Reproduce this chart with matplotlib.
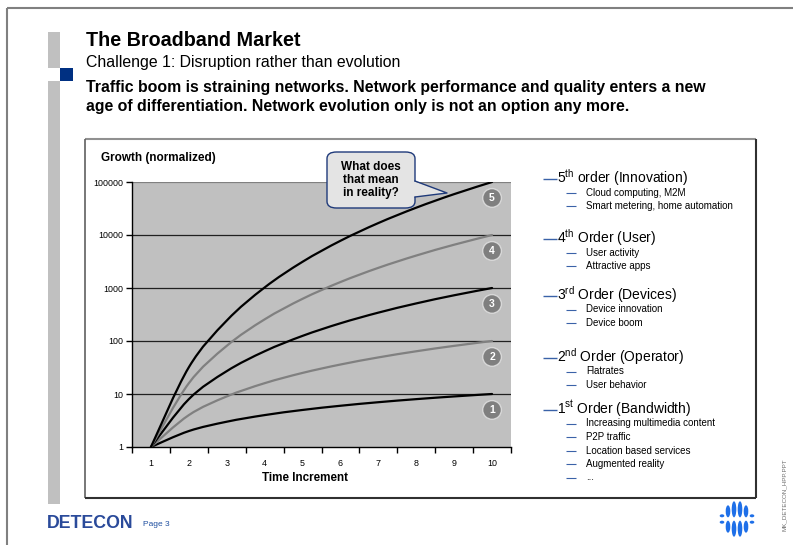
import matplotlib
matplotlib.use("Agg")
import matplotlib.pyplot as plt
from matplotlib.lines import Line2D
from matplotlib.patches import Rectangle, FancyBboxPatch, Polygon, Ellipse, PathPatch
from matplotlib.path import Path
import numpy as np

plt.rcParams['font.family'] = ['Liberation Sans', 'DejaVu Sans']
plt.rcParams['mathtext.fontset'] = 'custom'
plt.rcParams['mathtext.rm'] = 'Liberation Sans'
plt.rcParams['mathtext.it'] = 'Liberation Sans:italic'
plt.rcParams['mathtext.bf'] = 'Liberation Sans:bold'

# ---------------- data ----------------
time_increment = [1, 2, 3, 4, 5, 6, 7, 8, 9, 10]
order1 = [1, 2, 3, 4, 5, 6, 7, 8, 9, 10]
order2 = [1, 4, 9, 16, 25, 36, 49, 64, 81, 100]
order3 = [1, 8, 27, 64, 125, 216, 343, 512, 729, 1000]
order4 = [1, 16, 81, 256, 625, 1296, 2401, 4096, 6561, 10000]
order5 = [1, 32, 243, 1024, 3125, 7776, 16807, 32768, 59049, 100000]
series = [order1, order2, order3, order4, order5]
series_colors = ['#000000', '#808080', '#000000', '#808080', '#000000']
y_ticks = [1, 10, 100, 1000, 10000, 100000]

title = "The Broadband Market"
subtitle = "Challenge 1: Disruption rather than evolution"
lead_lines = ["Traffic boom is straining networks. Network performance and quality enters a new",
              "age of differentiation. Network evolution only is not an option any more."]

order_num = ["5", "4", "3", "2", "1"]
order_suf = ["th", "th", "rd", "nd", "st"]
order_name = ["order (Innovation)", "Order (User)", "Order (Devices)",
              "Order (Operator)", "Order (Bandwidth)"]
order_items = [
    ["Cloud computing, M2M", "Smart metering, home automation"],
    ["User activity", "Attractive apps"],
    ["Device innovation", "Device boom"],
    ["Flatrates", "User behavior"],
    ["Increasing multimedia content", "P2P traffic", "Location based services",
     "Augmented reality", "..."],
]

# ---------------- figure ----------------
W, H = 793, 545
fig = plt.figure(figsize=(W / 100, H / 100), dpi=100)
fig.patch.set_facecolor('white')


def fx(x):
    return x / W


def fy(y):
    return 1 - y / H


def fline(x0, y0, x1, y1, color, lw):
    fig.add_artist(Line2D([fx(x0), fx(x1)], [fy(y0), fy(y1)], color=color, lw=lw,
                          transform=fig.transFigure, solid_capstyle='butt'))


def frect(x0, y0, x1, y1, color):
    fig.add_artist(Rectangle((fx(x0), fy(y1)), fx(x1) - fx(x0), fy(y0) - fy(y1),
                             transform=fig.transFigure, facecolor=color, edgecolor='none'))


def smooth_path(xs, ys):
    """Excel-like smoothed line: Catmull-Rom Bezier segments in log-y space."""
    px = np.asarray(xs, float)
    py = np.log10(np.asarray(ys, float))
    n = len(px)
    verts = [(px[0], py[0])]
    codes = [Path.MOVETO]
    for i in range(n - 1):
        i0 = max(i - 1, 0)
        i3 = min(i + 2, n - 1)
        c1 = (px[i] + (px[i + 1] - px[i0]) / 6, py[i] + (py[i + 1] - py[i0]) / 6)
        c2 = (px[i + 1] - (px[i3] - px[i]) / 6, py[i + 1] - (py[i3] - py[i]) / 6)
        verts += [c1, c2, (px[i + 1], py[i + 1])]
        codes += [Path.CURVE4] * 3
    verts = [(vx, 10 ** vy) for vx, vy in verts]
    return Path(verts, codes)


# slide border
fline(7, 8, 793, 8, '#808080', 1.5)
fline(7, 8, 7, 545, '#808080', 1.5)

# side bars
frect(48, 32, 60, 68, '#C0C0C0')
frect(60, 68, 73, 81, '#003082')
frect(48, 81, 60, 504, '#C0C0C0')

# header text
fig.text(fx(86), fy(40), title, fontsize=14.2, fontweight='bold', va='center', ha='left')
fig.text(fx(86), fy(62), subtitle, fontsize=11.4, va='center', ha='left')
fig.text(fx(86), fy(87), lead_lines[0], fontsize=11.4, fontweight='bold', va='center', ha='left')
fig.text(fx(86), fy(106), lead_lines[1], fontsize=11.4, fontweight='bold', va='center', ha='left')

# chart box
fline(85, 139, 756, 139, '#909090', 1.5)
fline(85, 139, 85, 498, '#606060', 1.2)
fline(756, 139, 756, 498, '#303030', 1.5)
fline(85, 498, 756, 498, '#303030', 1.5)

# ---------------- axes ----------------
ax = fig.add_axes([fx(132), fy(447), fx(511) - fx(132), fy(182) - fy(447)])
ax.set_facecolor('#C0C0C0')
ax.set_yscale('log')
ax.set_ylim(1, 100000)
ax.set_xlim(0.5, 10.5)
for s in ['top', 'right']:
    ax.spines[s].set_visible(False)
ax.spines['left'].set_color('#000000')
ax.spines['bottom'].set_color('#000000')
ax.spines['left'].set_linewidth(1.0)
ax.spines['bottom'].set_linewidth(1.0)

for v in y_ticks[1:]:
    ax.axhline(v, color='#808080' if v == y_ticks[-1] else '#202020',
               lw=1.6 if v == y_ticks[-1] else 0.9, zorder=1)

ax.set_yticks(y_ticks)
ax.set_yticklabels([str(v) for v in y_ticks])
ax.yaxis.set_minor_locator(matplotlib.ticker.NullLocator())
ax.set_xticks(time_increment)
ax.set_xticklabels([str(v) for v in time_increment])
ax.set_xticks([t - 0.5 for t in time_increment] + [time_increment[-1] + 0.5], minor=True)
ax.tick_params(axis='x', which='major', length=0, labelsize=6.4, pad=9)
ax.tick_params(axis='x', which='minor', length=4, width=1, direction='out')
ax.tick_params(axis='y', which='major', length=4, width=1, direction='out', labelsize=6.4, pad=2)

for vals, col in zip(series, series_colors):
    ax.add_patch(PathPatch(smooth_path(time_increment, vals), facecolor='none',
                           edgecolor=col, lw=1.6, zorder=3, capstyle='round'))

# numbered circles near series ends
for k, vals in enumerate(series):
    ax.text(time_increment[-1], vals[-1] / 2, str(k + 1), fontsize=7.5, fontweight='bold',
            color='white', ha='center', va='center', zorder=5,
            bbox=dict(boxstyle='circle,pad=0.42', fc='#7F7F7F', ec='#D8D8D8', lw=1))

fig.text(fx(101), fy(158), "Growth (normalized)", fontsize=8.5, fontweight='bold',
         va='center', ha='left')
fig.text(fx(305), fy(478), "Time Increment", fontsize=8.4, fontweight='bold',
         va='center', ha='center')

# callout
bx0, by0, bx1, by1 = 327, 152, 415, 208
wedge = Polygon([(fx(413), fy(181)), (fx(447), fy(193)), (fx(413), fy(197))], closed=True,
                transform=fig.transFigure, facecolor='#E4E4E4', edgecolor='none', zorder=10)
box = FancyBboxPatch((fx(bx0), fy(by1)), fx(bx1) - fx(bx0), fy(by0) - fy(by1),
                     boxstyle='round,pad=0,rounding_size=0.012', transform=fig.transFigure,
                     facecolor='#E4E4E4', edgecolor='#1F3A7A', lw=1.0, zorder=9)
fig.add_artist(box)
fig.add_artist(wedge)
fig.add_artist(Line2D([fx(415), fx(447), fx(415)], [fy(181), fy(193), fy(197)],
                      color='#1F3A7A', lw=1.0, transform=fig.transFigure, zorder=11))
fig.text(fx(371), fy(180), "What does\nthat mean\nin reality?", fontsize=8.5, fontweight='bold',
         ha='center', va='center', linespacing=1.15, zorder=12)

# legend text on the right
main_y = [178, 238, 295, 357, 409]
for num, suf, name, items, y in zip(order_num, order_suf, order_name, order_items, main_y):
    fline(543, y + 1, 557, y + 1, '#3A62A8', 1.0)
    fig.text(fx(557), fy(y), num + r"$^{\mathrm{" + suf + "}}$ " + name, fontsize=10,
             va='center', ha='left')
    for j, it in enumerate(items):
        yy = y + 14.5 + j * 13.5
        fline(566, yy, 576, yy, '#3A62A8', 0.8)
        fig.text(fx(586), fy(yy), it, fontsize=7, va='center', ha='left')

# footer
fig.text(fx(47), fy(523), "DETECON", fontsize=12.8, fontweight='bold', color='#2A4A9A',
         va='center', ha='left')
fig.text(fx(143), fy(524), "Page 3", fontsize=6, color='#1F4FA0', va='center', ha='left')
fig.text(fx(784), fy(495), "MK_DETECON_HPP.PPT", fontsize=4.5, color='#707070',
         rotation=90, va='center', ha='center')

# right logo (stylized sphere of bars)
logo_blue = '#1E6FE8'
cx, cy = 737, 519
cols = [(-15, 8), (-9, 26), (-3, 34), (3, 34), (9, 26), (15, 8)]
for dx, h in cols:
    half = h / 2
    for sgn in (-1, 1):
        yc = cy + sgn * (half / 2 + 1.2)
        fig.add_artist(Ellipse((fx(cx + dx), fy(yc)), 4.6 / W, (half - 1) / H,
                               transform=fig.transFigure, facecolor=logo_blue,
                               edgecolor='none'))

fig.savefig('out.png', dpi=100, facecolor='white')
